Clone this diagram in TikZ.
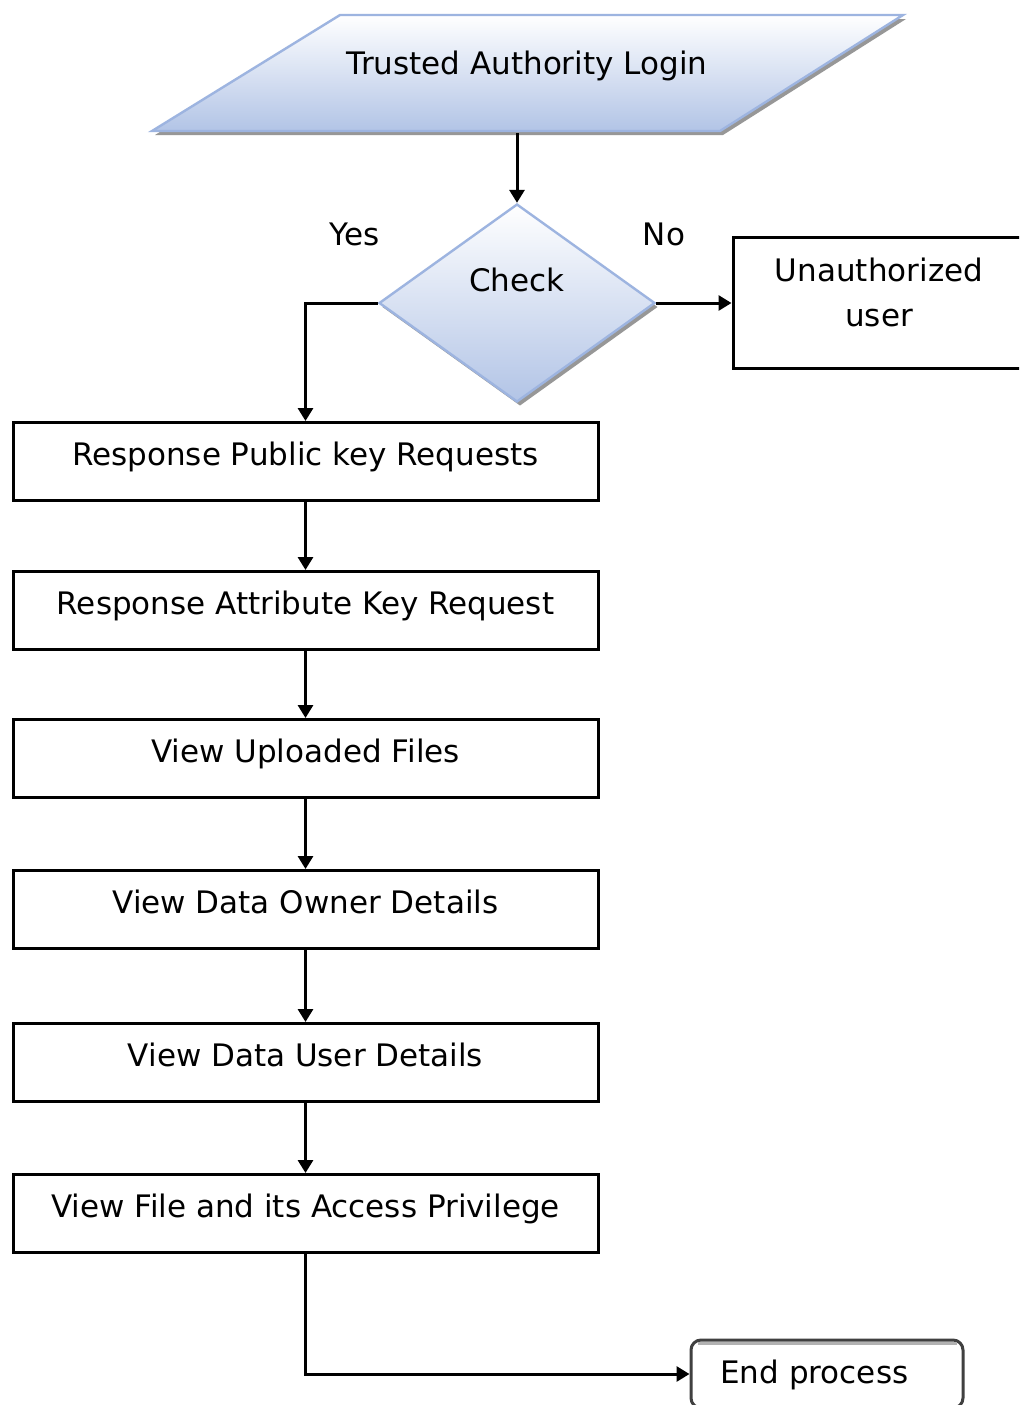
\documentclass[tikz,border=0pt]{standalone}
\usepackage{fontspec}
\setmainfont{DejaVu Sans}
\usetikzlibrary{arrows.meta,shapes.geometric,shadows,calc}
\definecolor{edgeblue}{HTML}{9DB4E0}
\definecolor{fillblue}{HTML}{B2C4E6}
\definecolor{shadowgray}{HTML}{8C8C8C}
\begin{document}
\begin{tikzpicture}[x=0.5pt,y=-0.5pt,
  font=\fontsize{15.5}{18}\selectfont,
  arr/.style={draw=black, line width=1.5pt, -{Triangle[length=6.5pt,width=7.5pt]}},
  stepbox/.style={draw=black, line width=1.5pt, anchor=north, minimum width=292.5pt,
    inner sep=0pt, text height=21.7pt, text depth=17.3pt},
  blueshape/.style={draw=edgeblue, line width=1.2pt, top color=white, bottom color=fillblue,
    drop shadow={shadow xshift=1.5pt, shadow yshift=-2pt, fill=shadowgray, opacity=0.9}},
  plain/.style={inner sep=0pt},
]
\useasboundingbox (0,0) rectangle (1019,1405);
\clip (0,0) rectangle (1019,1405);
\fill[white] (0,0) rectangle (1019,1405);

% input parallelogram
\path[blueshape] (340,15) -- (903,15) -- (720,131) -- (152,131) -- cycle;
\node[plain] (login) at (527,66) {Trusted Authority Login};
\coordinate (pbase) at (517,133);

% decision
\node[diamond, blueshape, minimum width=138pt, minimum height=99pt, inner sep=0pt] (chk) at (517,303) {};
\node[plain, anchor=base] (chktxt) at (517,291) {Check};
\node[plain, anchor=base] (yes) at (355,245) {Yes};
\node[plain, anchor=base] (no) at (664,245) {No};

% rejected branch
\node[draw=black, line width=1.5pt, minimum width=146pt, minimum height=65.5pt, inner sep=0pt] (unauth) at (879,303) {};
\node[plain, anchor=base] (unauth1) at (879,281.5) {Unauthorized};
\node[plain, anchor=base] (unauth2) at (879,326.5) {user};

% process steps
\node[stepbox] (b1) at (305.5,421) {Response Public key Requests};
\node[stepbox] (b2) at (305.5,570) {Response Attribute Key Request};
\node[stepbox] (b3) at (305.5,718) {View Uploaded Files};
\node[stepbox] (b4) at (305.5,869) {View Data Owner Details};
\node[stepbox] (b5) at (305.5,1022) {View Data User Details};
\node[stepbox] (b6) at (305.5,1173) {View File and its Access Privilege};

% terminal
\node[draw=black!75, line width=1.5pt, rounded corners=5pt, minimum width=136pt, minimum height=34pt, inner sep=0pt] (endp) at (827,1374) {};
\draw[black!30, line width=1.5pt] ($(endp.north west)+(8,5)$) -- ($(endp.north east)+(-8,5)$);
\node[plain, anchor=base west] (endtxt) at (720,1383) {End process};

% connectors
\draw[arr] (pbase) -- (chk.north);
\draw[arr] (chk.west) -| (b1.north);
\draw[arr] (chk.east) -- (unauth.west);
\draw[arr] (b1.south) -- (b2.north);
\draw[arr] (b2.south) -- (b3.north);
\draw[arr] (b3.south) -- (b4.north);
\draw[arr] (b4.south) -- (b5.north);
\draw[arr] (b5.south) -- (b6.north);
\draw[arr] (b6.south) |- (endp.west);
\end{tikzpicture}
\end{document}
